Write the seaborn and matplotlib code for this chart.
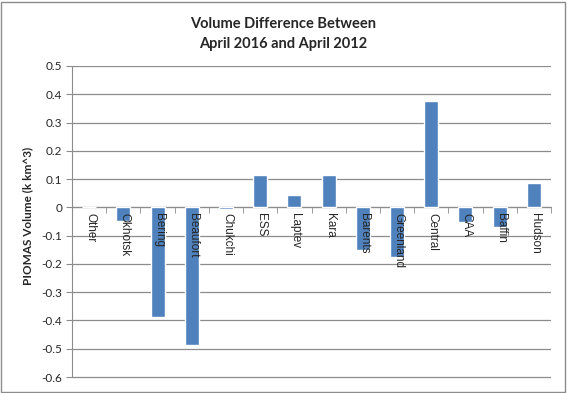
import matplotlib
matplotlib.use("Agg")
import matplotlib.pyplot as plt
import seaborn as sns
import pandas as pd
from matplotlib.patches import Rectangle
from matplotlib.transforms import offset_copy

categories = ["Other", "Okhotsk", "Bering", "Beaufort", "Chukchi", "ESS", "Laptev",
              "Kara", "Barents", "Greenland", "Central", "CAA", "Baffin", "Hudson"]
values = [0.0, -0.05, -0.388, -0.487, -0.005, 0.116, 0.045,
          0.116, -0.152, -0.177, 0.377, -0.053, -0.07, 0.087]
yticks = [0.5, 0.4, 0.3, 0.2, 0.1, 0, -0.1, -0.2, -0.3, -0.4, -0.5, -0.6]
title = "Volume Difference Between\nApril 2016 and April 2012"
ylabel = "PIOMAS Volume (k km^3)"

sns.set_style("white")
plt.rcParams['font.family'] = ['Lato', 'DejaVu Sans']

df = pd.DataFrame({"region": categories, "value": values})

fig = plt.figure(figsize=(5.67, 3.93), dpi=100)
px_per_unit = (377 - 66) / 1.1
y_lo, y_hi = -0.61, 0.5015
top_px = 66 - (y_hi - 0.5) * px_per_unit
bot_px = 377 + (-0.6 - y_lo) * px_per_unit
ax = fig.add_axes([72/567, 1-bot_px/393, (551-72)/567, (bot_px-top_px)/393])

sns.barplot(data=df, x="region", y="value", color="#4F81BD", saturation=1,
            width=0.41, ax=ax, zorder=3)

ax.set_ylim(y_lo, y_hi)
ax.set_xlim(-0.5, len(categories) - 0.5)
ax.set_yticks(yticks)
ax.set_yticklabels([("%g" % t) for t in yticks], fontsize=8.5)
ax.yaxis.grid(True, color="#8c8c8c", linewidth=0.9, zorder=0)
ax.set_axisbelow(True)

for s in ["top", "right"]:
    ax.spines[s].set_visible(False)
ax.spines["left"].set_color("#8c8c8c")
ax.spines["left"].set_bounds(-0.6, 0.5)
ax.spines["bottom"].set_color("#8c8c8c")
ax.spines["bottom"].set_position(("data", 0))
ax.tick_params(axis="y", direction="out", length=4, color="#8c8c8c", left=True, pad=3)

ax.set_xticks(range(len(categories)))
ax.set_xticklabels([])
ax.tick_params(axis="x", which="major", length=0)
ax.set_xticks([i - 0.5 for i in range(len(categories) + 1)], minor=True)
ax.tick_params(axis="x", which="minor", length=4, direction="out", color="#8c8c8c", bottom=True)

lab_tr = offset_copy(ax.transData, fig=fig, x=1, y=-6, units="dots")
for i, c in enumerate(categories):
    ax.text(i, 0, c, rotation=270, ha="center", va="top", fontsize=8.5,
            family=["Liberation Sans", "DejaVu Sans"], transform=lab_tr, zorder=6)

ax.set_xlabel("")
ax.set_ylabel(ylabel, fontsize=8.5, fontweight="bold")
ax.yaxis.set_label_coords(-39/479, 0.52)

fig.text(0.5, 0.913, title, ha="center", va="center", fontsize=10.5,
         fontweight="bold", linespacing=1.55)

fig.patches.append(Rectangle((0.002, 0.003), 0.994, 0.993, transform=fig.transFigure,
                             fill=False, edgecolor="#8c8c8c", linewidth=1))

fig.savefig("out.png", dpi=100)
